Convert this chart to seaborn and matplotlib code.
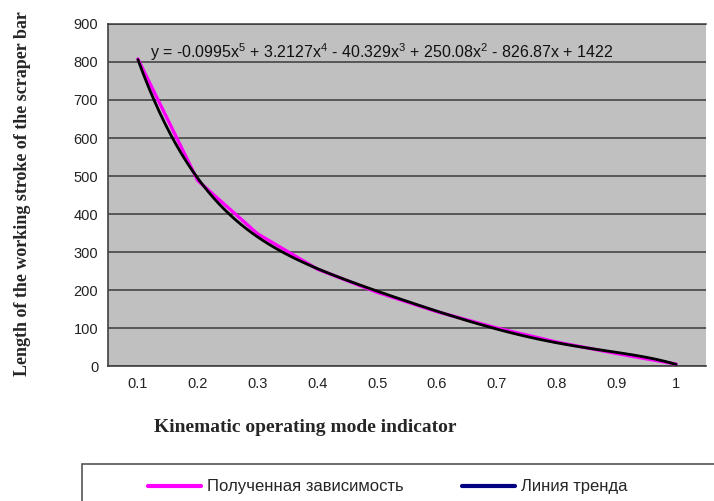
import numpy as np
import pandas as pd
import matplotlib
matplotlib.use("Agg")
import matplotlib.pyplot as plt
import seaborn as sns
from matplotlib.lines import Line2D
from matplotlib.patches import Rectangle

# === Data ===
mode_labels = ["0.1", "0.2", "0.3", "0.4", "0.5", "0.6", "0.7", "0.8", "0.9", "1"]
mode_index = [1, 2, 3, 4, 5, 6, 7, 8, 9, 10]
stroke_len = [808, 488, 348, 255, 194, 143, 100, 63, 33, 5]
y_ticks = [0, 100, 200, 300, 400, 500, 600, 700, 800, 900]
equation = ("y = -0.0995x$^{5}$ + 3.2127x$^{4}$ - 40.329x$^{3}$ + "
            "250.08x$^{2}$ - 826.87x + 1422")

df = pd.DataFrame({"idx": mode_index, "length": stroke_len})

sns.set_style("white")
plt.rcParams["font.family"] = ["Liberation Sans", "DejaVu Sans"]
plt.rcParams["mathtext.fontset"] = "custom"
plt.rcParams["mathtext.rm"] = "Liberation Sans"
plt.rcParams["mathtext.it"] = "Liberation Sans"

fig = plt.figure(figsize=(7.14, 5.01), dpi=100)
ax = fig.add_axes([108 / 714, 1 - 366 / 501, 598 / 714, 342 / 501])
ax.set_facecolor("#C0C0C0")

# measured curve (magenta) and 5th order trend line (black) on top
sns.lineplot(data=df, x="idx", y="length", ax=ax, color="#FF00FF", lw=2.4,
             zorder=3)
sns.regplot(data=df, x="idx", y="length", ax=ax, order=5, ci=None,
            scatter=False, line_kws={"color": "black", "lw": 2.0, "zorder": 4})

ax.set_xlim(0.5, 10.5)
ax.set_ylim(0, 900)
ax.set_yticks(y_ticks)
ax.set_yticklabels([str(v) for v in y_ticks], fontsize=10.5, color="#222222")
ax.set_xticks(mode_index)
ax.set_xticklabels(mode_labels, fontsize=10.5, color="#222222")
ax.set_xticks(np.arange(0.5, 11, 1), minor=True)
ax.tick_params(axis="x", which="major", length=0, pad=8)
ax.tick_params(axis="x", which="minor", length=4, width=1, color="#404040",
               direction="out")
ax.tick_params(axis="y", length=4, width=1, color="#404040", direction="out",
               pad=3)
ax.grid(axis="y", color="#3a3a3a", lw=1.1)
ax.set_axisbelow(True)
ax.set_xlabel("")
ax.set_ylabel("")
for side in ["left", "bottom"]:
    ax.spines[side].set_color("#404040")
    ax.spines[side].set_linewidth(1.2)
ax.spines["top"].set_color("#3a3a3a")
ax.spines["top"].set_linewidth(1.1)
ax.spines["right"].set_visible(False)

ax.text(1.2, 826, equation, fontsize=11.5, color="#111111", va="center")

# axis titles
fig.text(23 / 714, 1 - 194 / 501,
         "Length of the working stroke of the scraper bar",
         rotation=90, ha="center", va="center", fontsize=13,
         fontweight="bold", family="Liberation Serif")
fig.text(305 / 714, 1 - 428 / 501, "Kinematic operating mode indicator",
         ha="center", va="center", fontsize=14, fontweight="bold",
         family="Liberation Serif")

# legend box running off the figure edge
fig.patches.append(Rectangle((82 / 714, -0.1), 0.95, 0.1 + (501 - 464) / 501,
                             transform=fig.transFigure, fill=False,
                             edgecolor="#555555", lw=1.2))
handles = [Line2D([], [], color="#FF00FF", lw=3),
           Line2D([], [], color="#000080", lw=3)]
fig.legend(handles, ["Полученная зависимость", "Линия тренда"], ncol=2,
           frameon=False, loc="center left",
           bbox_to_anchor=(133 / 714, 1 - 487 / 501), fontsize=12,
           handlelength=3.2, handletextpad=0.35, columnspacing=3.5)

fig.savefig("out.png", dpi=100)
